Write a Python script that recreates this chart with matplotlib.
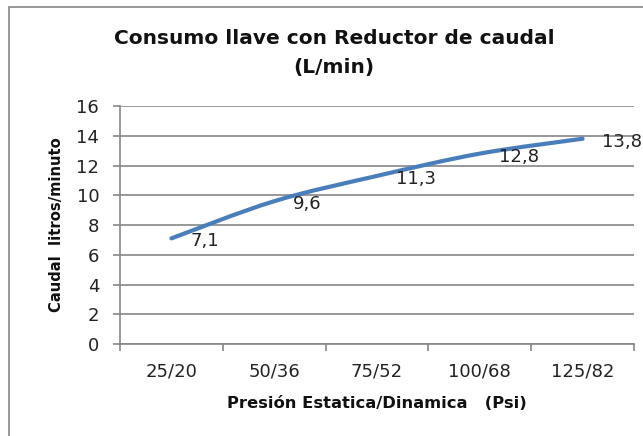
import numpy as np
import matplotlib.pyplot as plt
from matplotlib.path import Path
from matplotlib.patches import PathPatch, Rectangle

# Data
categories = ['25/20', '50/36', '75/52', '100/68', '125/82']
caudal = [7.1, 9.6, 11.3, 12.8, 13.8]
labels = ['7,1', '9,6', '11,3', '12,8', '13,8']
y_ticks = [0, 2, 4, 6, 8, 10, 12, 14, 16]

W, H = 643, 436
grid_color = '#868686'
line_color = '#4A7EBB'


def fx(px):
    return px / W


def fy(py):
    return 1 - py / H


fig = plt.figure(figsize=(W / 100, H / 100), dpi=100)
ax = fig.add_axes([fx(120), fy(344), (634 - 120) / W, (344 - 106) / H])

# smooth line (Excel style smoothing) drawn as cubic bezier segments
x = np.arange(len(caudal), dtype=float)
y = np.array(caudal)
pts = np.column_stack([x, y])
verts = [pts[0]]
codes = [Path.MOVETO]
for i in range(len(pts) - 1):
    p0 = pts[i - 1] if i > 0 else pts[i]
    p1 = pts[i]
    p2 = pts[i + 1]
    p3 = pts[i + 2] if i + 2 < len(pts) else pts[i + 1]
    c1 = p1 + (p2 - p0) / 6
    c2 = p2 - (p3 - p1) / 6
    verts += [c1, c2, p2]
    codes += [Path.CURVE4] * 3
ax.add_patch(PathPatch(Path(verts, codes), facecolor='none', edgecolor=line_color,
                       lw=3, capstyle='round', joinstyle='round', zorder=3))

for xi, yi, lab in zip(x, y, labels):
    ax.annotate(lab, (xi, yi), xytext=(19, -3), textcoords='offset pixels',
                ha='left', va='center', fontsize=13, color='#222222',
                family='DejaVu Sans', zorder=4, annotation_clip=False)

ax.set_xlim(-0.5, len(categories) - 0.5)
ax.set_ylim(0, 16)
ax.set_yticks(y_ticks)
ax.set_xticks(x)
ax.set_xticklabels(categories)
ax.set_xticks(np.arange(len(categories) + 1) - 0.5, minor=True)

ax.grid(axis='y', color=grid_color, lw=1.2)
ax.set_axisbelow(True)
for s in ['top', 'right']:
    ax.spines[s].set_visible(False)
for s in ['left', 'bottom']:
    ax.spines[s].set_color(grid_color)
    ax.spines[s].set_linewidth(1.2)

ax.tick_params(axis='y', length=5, width=1.2, color=grid_color, pad=10,
               labelsize=13, labelcolor='#222222')
ax.tick_params(axis='x', which='major', length=0, pad=13,
               labelsize=13, labelcolor='#222222')
ax.tick_params(axis='x', which='minor', length=5, width=1.2, color=grid_color)

# titles and axis labels
title_font = dict(fontweight='bold', family='DejaVu Sans', color='#111111')
fig.text(fx(334), fy(38), 'Consumo llave con Reductor de caudal', ha='center', va='center',
         fontsize=14.5, **title_font)
fig.text(fx(334), fy(67), '(L/min)', ha='center', va='center',
         fontsize=14.5, **title_font)
fig.text(fx(377), fy(403), 'Presión Estatica/Dinamica   (Psi)', ha='center', va='center',
         fontsize=11.8, **title_font)
fig.text(fx(57), fy(225), 'Caudal  litros/minuto', ha='center', va='center', rotation=90,
         fontsize=10.6, **title_font)

# chart area border
fig.add_artist(Rectangle((fx(9), -0.2), 1.2, fy(7) + 0.2, transform=fig.transFigure,
                         fill=False, edgecolor=grid_color, lw=1.2))

fig.savefig('out.png', dpi=100)
